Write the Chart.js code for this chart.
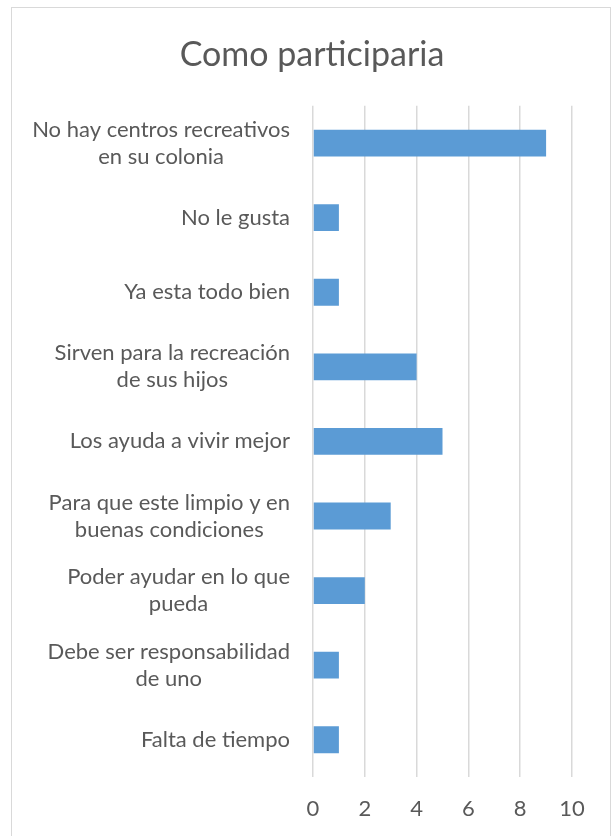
<!DOCTYPE html>
<html>
<head>
<meta charset="utf-8">
<script src="https://cdn.jsdelivr.net/npm/chart.js@4"></script>
<style>
  body { margin: 0; background: #fff; }
  #wrap { position: relative; width: 615px; height: 836px; overflow: hidden; }
  #frame { position: absolute; left: 11px; top: 7px; width: 600px; height: 860px; border: 1.5px solid #d9d9d9; box-sizing: border-box; }
  canvas { position: absolute; left: 0; top: 0; }
</style>
</head>
<body>
<div id="wrap">
  <div id="frame"></div>
  <canvas id="chart" width="615" height="836"></canvas>
</div>
<script>
// labels (wrapped like the original) and counts, top to bottom
const categories = [
  ["No hay centros recreativos", "en su colonia"],
  ["No le gusta"],
  ["Ya esta todo bien"],
  ["Sirven para la recreación", "de sus hijos"],
  ["Los ayuda a vivir mejor"],
  ["Para que este limpio y en", "buenas condiciones"],
  ["Poder ayudar en lo que", "pueda"],
  ["Debe ser responsabilidad", "de uno"],
  ["Falta de tiempo"]
];
const counts = [9, 1, 1, 4, 5, 3, 2, 1, 1];
const xTicks = [0, 2, 4, 6, 8, 10];

const textColor = "#595959";
const fontFamily = "Lato, 'Open Sans', sans-serif";

// y labels: each block right-aligned, lines centered inside the block
const blockLabels = {
  id: "blockLabels",
  afterDraw(chart) {
    const scale = chart.scales.y;
    const ctx = chart.ctx;
    ctx.save();
    ctx.font = "22px " + fontFamily;
    ctx.fillStyle = textColor;
    ctx.textAlign = "center";
    ctx.textBaseline = "middle";
    const lineH = 27;
    categories.forEach((lines, i) => {
      const y = scale.getPixelForTick(i);
      const widest = Math.max(...lines.map((l) => ctx.measureText(l).width));
      const cx = scale.right - 23 - widest / 2;
      lines.forEach((l, j) => {
        ctx.fillText(l, cx, y + (j - (lines.length - 1) / 2) * lineH);
      });
    });
    ctx.restore();
  },
};

new Chart(document.getElementById("chart"), {
  type: "bar",
  data: {
    labels: categories,
    datasets: [
      {
        label: "Como participaria",
        data: counts,
        backgroundColor: "#5b9bd5",
        barPercentage: 0.36,
        categoryPercentage: 1,
      },
    ],
  },
  options: {
    indexAxis: "y",
    responsive: false,
    animation: false,
    // left padding only shifts the title to the frame centre
    layout: { padding: { left: 52, right: 43, top: 0, bottom: 0 } },
    plugins: {
      legend: { display: false },
      tooltip: { enabled: false },
      title: {
        display: true,
        text: "Como participaria",
        color: textColor,
        font: { family: fontFamily, size: 34, weight: "normal" },
        padding: { top: 35, bottom: 30 },
      },
    },
    scales: {
      x: {
        min: 0,
        max: 10,
        afterBuildTicks: (scale) => {
          scale.ticks = xTicks.map((v) => ({ value: v }));
        },
        afterFit: (scale) => {
          scale.height = 59;
        },
        grid: { color: "#d9d9d9", lineWidth: 1.5, drawTicks: false },
        border: { display: false },
        ticks: {
          color: textColor,
          padding: 19,
          font: { family: fontFamily, size: 22 },
        },
      },
      y: {
        afterFit: (scale) => {
          scale.width = 261;
        },
        grid: { display: false },
        border: { display: false },
        ticks: { display: false },
      },
    },
  },
  plugins: [blockLabels],
});
</script>
</body>
</html>
